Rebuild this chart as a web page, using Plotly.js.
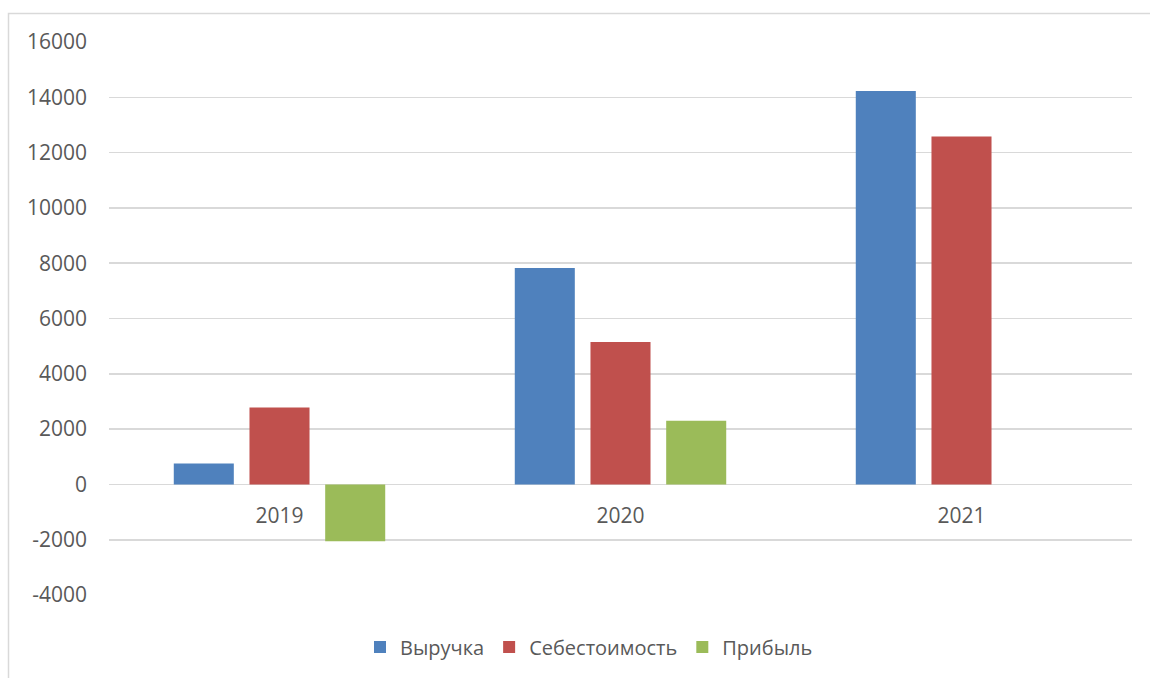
<!DOCTYPE html>
<html>
<head>
<meta charset="utf-8">
<script src="https://cdn.plot.ly/plotly-3.0.1.min.js"></script>
<style>
  html, body { margin: 0; padding: 0; background: #ffffff; }
  #chart { width: 1150px; height: 678px; }
</style>
</head>
<body>
<div id="chart"></div>
<script>
const years = ['2019', '2020', '2021'];
const revenue = [760, 7830, 14230];      // Выручка
const cost = [2780, 5150, 12580];        // Себестоимость
const profit = [-2060, 2300, null];      // Прибыль

const seriesNames = ['Выручка', 'Себестоимость', 'Прибыль'];
const seriesColors = ['#4F81BD', '#C0504D', '#9BBB59'];
const yTicks = [-4000, -2000, 0, 2000, 4000, 6000, 8000, 10000, 12000, 14000, 16000];

const FONT = 'Open Sans, Lato, Liberation Sans, sans-serif';
const TXT = '#595959';

const traces = [revenue, cost, profit].map((vals, i) => ({
  type: 'bar',
  name: seriesNames[i],
  x: years,
  y: vals,
  marker: { color: seriesColors[i] },
  hoverinfo: 'x+y+name'
}));

// plot area geometry: x 109..1132, y 42..595
const L = 109, R = 1132, T = 42, B = 595;
const pw = R - L, ph = B - T;

const layout = {
  width: 1150,
  height: 678,
  margin: { l: L, r: 1150 - R, t: T, b: 678 - B, pad: 0 },
  paper_bgcolor: '#ffffff',
  plot_bgcolor: '#ffffff',
  font: { family: FONT, size: 21, color: TXT },
  barmode: 'group',
  bargap: 0.334,
  bargroupgap: 0.207,
  showlegend: true,
  legend: {
    orientation: 'h',
    x: (589 - L) / pw,
    xanchor: 'center',
    y: (B - 647) / ph,
    yanchor: 'middle',
    font: { family: FONT, size: 20, color: TXT },
    bgcolor: 'rgba(0,0,0,0)'
  },
  xaxis: {
    type: 'category',
    anchor: 'free',
    position: 0.2,
    showgrid: false,
    showline: false,
    zeroline: false,
    ticks: '',
    ticklabelstandoff: 17,
    tickfont: { family: FONT, size: 21, color: TXT },
    fixedrange: true
  },
  yaxis: {
    range: [-4000, 16000],
    tickvals: yTicks,
    ticktext: yTicks.map(String),
    showgrid: true,
    gridcolor: '#d9d9d9',
    gridwidth: 1.6,
    zeroline: true,
    zerolinecolor: '#d9d9d9',
    zerolinewidth: 1.6,
    showline: false,
    ticks: '',
    ticklabelstandoff: 21,
    tickfont: { family: FONT, size: 21, color: TXT },
    fixedrange: true
  },
  shapes: [{
    type: 'rect',
    xref: 'paper', yref: 'paper',
    x0: (8.5 - L) / pw, x1: (1170 - L) / pw,
    y0: (B - 700) / ph, y1: (B - 13.5) / ph,
    line: { color: '#d9d9d9', width: 1.5 },
    fillcolor: 'rgba(0,0,0,0)',
    layer: 'below'
  }]
};

Plotly.newPlot('chart', traces, layout, { displayModeBar: false, staticPlot: true });
</script>
</body>
</html>
